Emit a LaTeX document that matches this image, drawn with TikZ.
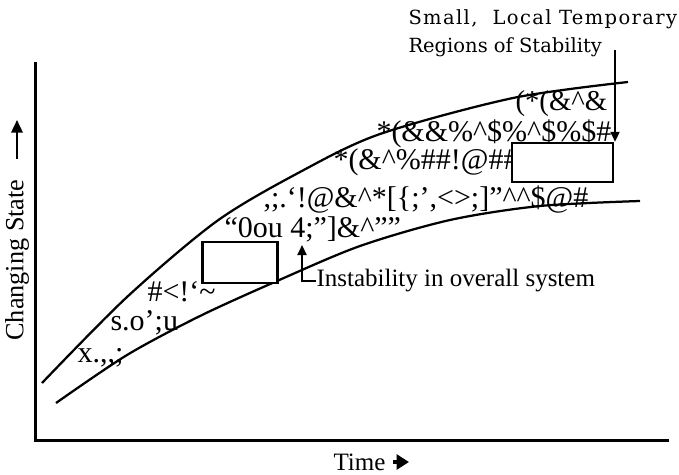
\documentclass[tikz,border=0pt]{standalone}
\usepackage{fontspec}
\setmainfont{Liberation Serif}
\newfontfamily\slabfont{DejaVu Serif}
\usetikzlibrary{arrows.meta}

\begin{document}
\begin{tikzpicture}[
        x=0.4pt, y=-0.4pt,
        axis/.style={line width=1.2pt},
        curve/.style={line width=0.9pt},
        junk/.style={anchor=west, inner sep=0pt, font=\fontsize{12}{14}\selectfont},
        lab/.style={inner sep=0pt, font=\fontsize{10}{12}\selectfont},
        region/.style={draw, line width=1pt, fill=white, inner sep=0pt},
        arr/.style={-{Triangle[length=4pt, width=3.6pt]}, line width=0.9pt}
      ]
        \useasboundingbox (0,0) rectangle (679,474);
        \draw[axis] (35,62) |- (669,440);
        \draw[curve] plot[smooth] coordinates {(42,383) (127,297) (217,221) (300,172) (380,134) (513,98) (628,82)};
        \draw[curve] plot[smooth] coordinates {(56,403) (127,355) (200,316) (277,281) (360,246) (450,220) (540,206) (640,201)};
        \node[junk, font=\fontsize{11.5}{13}\selectfont] (g1) at (515,104) {(*(\&\textasciicircum\&};
        \node[junk] (g2) at (376,134) {*(\&\&\%\textasciicircum\$\%\textasciicircum\$\%\$\#};
        \node[junk] (g3) at (333,162) {*(\&\textasciicircum\%\#\#!@\#\#};
        \node[junk] (g4) at (263,199) {,;.`!@\&\textasciicircum*[\{;',<>;]''\textasciicircum\textasciicircum\$@\#};
        \node[junk] (g5) at (224,229) {``0ou 4;'']\&\textasciicircum''{}''};
        \node[junk] (g6) at (147,292) {\#<!{}`\textasciitilde};
        \node[junk] (g7) at (110,323) {s.o';u};
        \node[junk] (g8) at (77,358) {x.,{},;};
        \node[region, minimum width=30pt, minimum height=16.4pt] (box1) at (240,262.5) {};
        \node[region, minimum width=40.4pt, minimum height=15.6pt] (box2) at (562.5,162.5) {};
        \node[lab, anchor=north west, align=left, font=\slabfont\fontsize{7.8}{11.2}\selectfont] (title) at (408,9) {{\addfontfeature{LetterSpace=7}Small,\ \ Local\ Temporary}\\Regions of Stability};
        \coordinate (stab) at (615,50);
        \draw[arr] (stab) -- (stab |- box2.north);
        \node[lab, anchor=west] (instab) at (316,281) {Instability in overall system};
        \coordinate (itip) at (302,245);
        \draw[arr] (instab.west) -| (itip);
        \node[lab, rotate=90, font=\fontsize{10.5}{12}\selectfont] (ylab) at (17,260) {Changing State};
        \coordinate (ytip) at (17,120);
        \draw[arr, -{Triangle[length=5pt, width=4.5pt]}, shorten <=8pt] (ylab.east) -- (ytip);
        \node[lab, anchor=west] (xlab) at (333,462) {Time};
        \coordinate (xtip) at (409,462);
        \draw[line width=1.8pt, -{Triangle[length=5pt, width=6pt]}, shorten <=3pt] (xlab.east) -- (xtip);
      \end{tikzpicture}
\end{document}
